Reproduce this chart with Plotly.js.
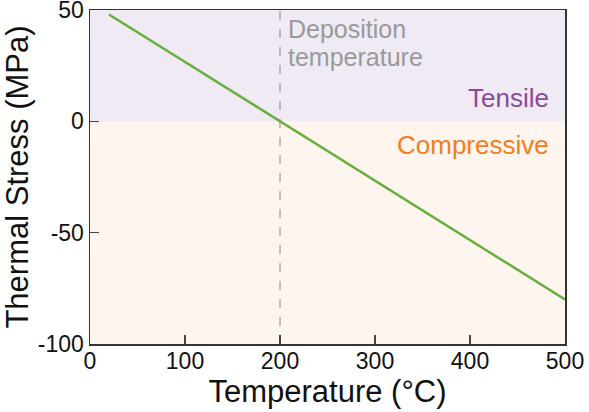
<!DOCTYPE html>
<html>
<head>
<meta charset="utf-8">
<script src="https://cdn.plot.ly/plotly-3.0.1.min.js"></script>
<style>
html,body{margin:0;padding:0;background:#fff;}
</style>
</head>
<body>
<div id="chart" style="width:589px;height:412px;"></div>
<script>
// Data
const temperature = [20, 500];
const stress = [48, -80];
const depositionTemp = 200;
const xTicks = [0, 100, 200, 300, 400, 500];
const yTicks = [-100, -50, 0, 50];

const font = "Liberation Sans, Arial, Helvetica, sans-serif";

const trace = {
  x: temperature, y: stress, mode: 'lines', type: 'scatter',
  line: {color: '#6aaf3d', width: 2.5}, hoverinfo: 'skip', showlegend: false
};

const layout = {
  width: 589, height: 412,
  margin: {l: 90, r: 24, t: 10, b: 68},
  paper_bgcolor: '#ffffff', plot_bgcolor: '#fdf5ee',
  font: {family: font, color: '#111', size: 23},
  xaxis: {
    range: [0, 500], tickvals: xTicks, ticktext: xTicks.map(String),
    ticks: 'inside', ticklen: 9, tickcolor: '#444', tickwidth: 1.2,
    showgrid: false, zeroline: false, showline: true, linecolor: '#333', linewidth: 1.5, mirror: true,
    tickfont: {family: font, size: 23, color: '#111'}, ticklabeloverflow: 'allow', ticklabelstandoff: -4,
    title: {text: 'Temperature (°C)', font: {family: font, size: 31, color: '#111'}, standoff: 0}
  },
  yaxis: {
    range: [-100, 50], tickvals: yTicks, ticktext: yTicks.map(String),
    ticks: 'inside', ticklen: 9, tickcolor: '#444', tickwidth: 1.2,
    showgrid: false, zeroline: false, showline: true, linecolor: '#333', linewidth: 1.5, mirror: true,
    tickfont: {family: font, size: 23, color: '#111'}, ticklabeloverflow: 'allow',
    title: {text: 'Thermal Stress (MPa)', font: {family: font, size: 31, color: '#111'}, standoff: 0}
  },
  shapes: [
    {type: 'rect', xref: 'paper', yref: 'y', x0: 0, x1: 1, y0: 0, y1: 50, fillcolor: '#efeaf3', line: {width: 0}, layer: 'below'},
    {type: 'line', xref: 'x', yref: 'y', x0: depositionTemp, x1: depositionTemp, y0: -100, y1: 50, line: {color: '#888', width: 1, dash: 'dash'}, layer: 'below'}
  ],
  annotations: [
    {xref: 'x', yref: 'y', x: 206, y: 41.5, xanchor: 'left', yanchor: 'middle', showarrow: false,
     text: 'Deposition', font: {family: font, size: 25, color: '#9a9a9a'}},
    {xref: 'x', yref: 'y', x: 206, y: 29, xanchor: 'left', yanchor: 'middle', showarrow: false,
     text: 'temperature', font: {family: font, size: 25, color: '#9a9a9a'}},
    {xref: 'paper', yref: 'y', x: 0.97, y: 10.5, xanchor: 'right', yanchor: 'middle', showarrow: false,
     text: 'Tensile', font: {family: font, size: 26, color: '#8a4a9c'}},
    {xref: 'paper', yref: 'y', x: 0.97, y: -10.5, xanchor: 'right', yanchor: 'middle', showarrow: false,
     text: 'Compressive', font: {family: font, size: 26, color: '#f47d20'}}
  ]
};

Plotly.newPlot('chart', [trace], layout, {displayModeBar: false, staticPlot: true});
</script>
</body>
</html>
